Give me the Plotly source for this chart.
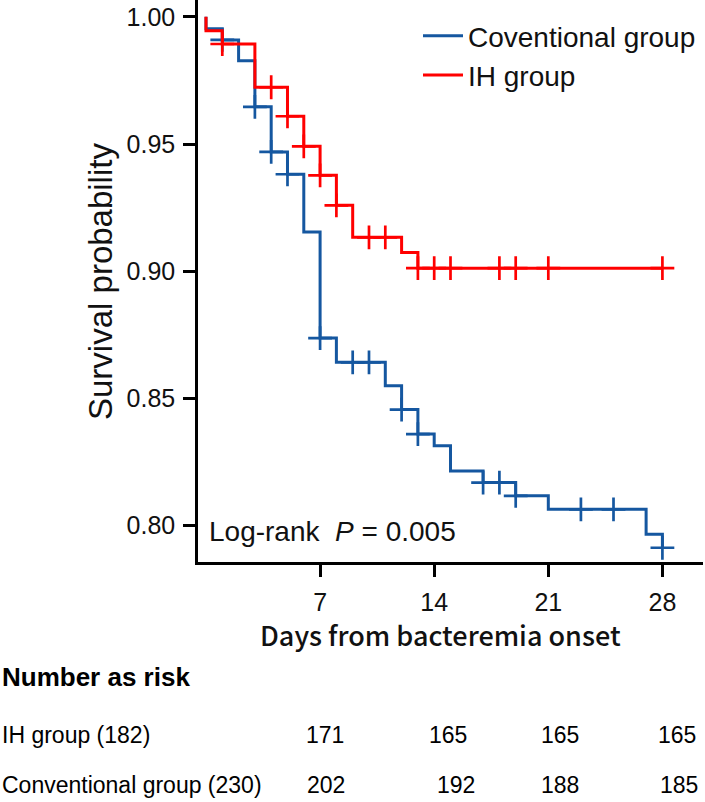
import numpy as np
import plotly.graph_objects as go

# ---------------- data ----------------
conv_name = "Coventional group"
ih_name = "IH group"

conv_t = [0, 0, 1, 2, 3, 4, 5, 6, 7, 8, 11, 12, 13, 14, 15, 17, 19, 21, 27, 28]
conv_s = [1.0, 0.9953, 0.9909, 0.9827, 0.9646, 0.9469, 0.9381, 0.9154, 0.8737, 0.8642,
          0.8550, 0.8456, 0.8360, 0.8314, 0.8215, 0.8169, 0.8117, 0.8064, 0.7966, 0.7913]
conv_cens = [1, 3, 4, 5, 7, 9, 10, 12, 13, 17, 18, 19, 23, 25, 28]

ih_t = [0, 0, 1, 3, 5, 6, 7, 8, 9, 12, 13, 28]
ih_s = [1.0, 0.9945, 0.9893, 0.9723, 0.9609, 0.9491, 0.9377, 0.9259, 0.9133, 0.9074, 0.9012, 0.9012]
ih_cens = [1, 4, 5, 6, 7, 8, 10, 11, 13, 14, 15, 18, 19, 21, 28]

x_ticks = [7, 14, 21, 28]
y_ticks = [0.80, 0.85, 0.90, 0.95, 1.00]

risk_times = [7, 14, 21, 28]
ih_risk = [171, 165, 165, 165]
conv_risk = [202, 192, 188, 185]
risk_labels = ["IH group (182)", "Conventional group (230)"]
pvalue_text = "Log-rank  <i>P</i> = 0.005"

BLUE = "#1557A0"
RED = "#FF0000"

# ---------------- layout geometry ----------------
W, H = 705, 802
L, R, T, B = 198, 2, 0, 240
PW, PH = W - L - R, H - T - B


def px(xp):
    return (xp - L) / PW


def py(yp):
    return 1 - (yp - T) / PH


def step_at(times, surv, pts):
    times = np.asarray(times)
    surv = np.asarray(surv)
    idx = np.searchsorted(times, np.asarray(pts), side="right") - 1
    return surv[idx]


fig = go.Figure()

for name, t, s, cens, col in [(conv_name, conv_t, conv_s, conv_cens, BLUE),
                               (ih_name, ih_t, ih_s, ih_cens, RED)]:
    fig.add_trace(go.Scatter(x=t, y=s, mode="lines", name=name,
                             line=dict(color=col, width=3, shape="hv")))
    fig.add_trace(go.Scatter(x=cens, y=step_at(t, s, cens), mode="markers",
                             showlegend=False,
                             marker=dict(symbol="cross-thin", size=17,
                                         line=dict(color=col, width=2.7))))

FONT = "Liberation Sans, Arial, sans-serif"

fig.update_layout(
    width=W, height=H,
    margin=dict(l=L, r=R, t=T, b=B, pad=0),
    paper_bgcolor="white", plot_bgcolor="white",
    font=dict(family=FONT, color="black"),
    showlegend=True,
    legend=dict(x=px(418), y=py(11), xanchor="left", yanchor="top",
                font=dict(size=28, family=FONT, color="#111"),
                bgcolor="rgba(0,0,0,0)", borderwidth=0,
                itemwidth=40, tracegroupgap=0),
    xaxis=dict(range=[-0.49, 30.49], tickvals=x_ticks, ticks="outside",
               ticklen=12, tickwidth=2.5, tickcolor="black",
               showline=True, linewidth=2.5, linecolor="black",
               showgrid=False, zeroline=False,
               tickfont=dict(size=25, family=FONT, color="#111"),
               ticklabelstandoff=4),
    yaxis=dict(range=[0.7857, 1.0066], tickvals=y_ticks, tickformat=".2f",
               ticks="outside", ticklen=12, tickwidth=2.5, tickcolor="black",
               showline=True, linewidth=2.5, linecolor="black",
               showgrid=False, zeroline=False,
               tickfont=dict(size=25, family=FONT, color="#111"),
               ticklabelstandoff=3),
)

ann = []
# axis titles
ann.append(dict(x=px(100), y=py(282), xref="paper", yref="paper",
                text="Survival probability", textangle=-90, showarrow=False,
                font=dict(size=33, family=FONT, color="#111"),
                xanchor="center", yanchor="middle"))
ann.append(dict(x=px(440), y=py(634), xref="paper", yref="paper",
                text="Days from bacteremia onset", showarrow=False,
                font=dict(size=27, family="Noto Sans CJK SC, Noto Sans, sans-serif",
                          color="#111", weight=500),
                xanchor="center", yanchor="middle"))
# p-value
ann.append(dict(x=px(207), y=py(531), xref="paper", yref="paper",
                text=pvalue_text, showarrow=False,
                font=dict(size=28, family=FONT, color="#111"),
                xanchor="left", yanchor="middle"))
# risk table
ann.append(dict(x=px(0), y=py(677), xref="paper", yref="paper",
                text="<b>Number as risk</b>", showarrow=False,
                font=dict(size=26, family=FONT, color="black"),
                xanchor="left", yanchor="middle"))
row_y = [735, 785]
for lab, yy in zip(risk_labels, row_y):
    ann.append(dict(x=px(0), y=py(yy), xref="paper", yref="paper",
                    text=lab, showarrow=False,
                    font=dict(size=23, family=FONT, color="black"),
                    xanchor="left", yanchor="middle"))
shifts = [[5, 14, 12, 15], [6, 22, 12, 17]]
for vals, yy, sh in zip([ih_risk, conv_risk], row_y, shifts):
    for t, v, s in zip(risk_times, vals, sh):
        ann.append(dict(x=t, y=py(yy), xref="x", yref="paper", xshift=s,
                        text=str(v), showarrow=False,
                        font=dict(size=23, family=FONT, color="black"),
                        xanchor="center", yanchor="middle"))
fig.update_layout(annotations=ann)

fig.write_html("out.html")
